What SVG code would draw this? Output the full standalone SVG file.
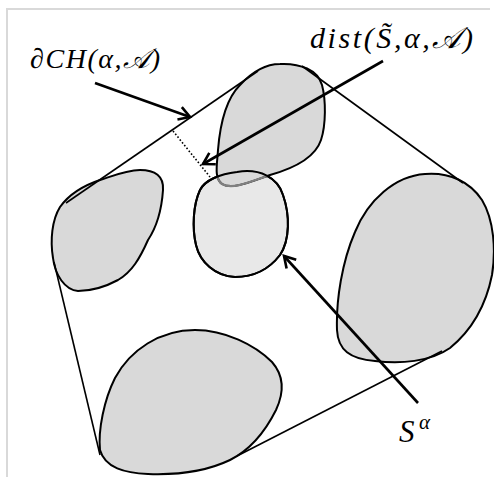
<svg xmlns="http://www.w3.org/2000/svg" width="494" height="477" viewBox="0 0 494 477">
<style>
.blob{fill:#d9d9d9;stroke:#000;stroke-width:2}
.light{fill:#e8e8e8;stroke:#000;stroke-width:2}
.hull{fill:none;stroke:#000;stroke-width:1.6}
.arrow{fill:none;stroke:#000;stroke-width:2.6;marker-end:url(#open)}
.frame{stroke:#d9d9d9;stroke-width:2;fill:none}
.lbl{font-family:"Liberation Serif","DejaVu Serif",serif;font-style:italic;fill:#000}
</style>
<defs>
<marker id="open" markerUnits="userSpaceOnUse" markerWidth="16" markerHeight="16" refX="13" refY="8" orient="auto">
<path d="M2,1.5 L13,8 L2,14.5" fill="none" stroke="#000" stroke-width="2.6"/>
</marker>
<path id="lightShape" d="M237,172 C260,168 278,178 283,195 C290,215 290,240 280,255 C270,268 255,277 235,277 C215,276 200,262 196,245 C192,228 193,205 200,190 C205,180 220,174 237,172 Z"/>
<path id="topShape" d="M280,64 C300,63 318,70 322,85 C326,100 326,125 321,140 C315,158 295,168 270,175 C250,182 232,190 222,184 C214,178 217,165 218,150 C220,125 225,100 240,85 C252,72 265,64 280,64 Z"/>
<clipPath id="lightClip"><use href="#lightShape"/></clipPath>
</defs>
<path class="frame" d="M7,477 L7,9 L490,9"/>
<g id="blob-left"><path class="blob" d="M140,170 C155,170 164,176 163,190 C162,205 158,225 148,240 C140,258 132,272 118,280 C105,287 90,291 78,291 C65,290 55,275 53,258 C50,240 52,220 60,207 C70,193 85,185 100,180 C115,175 127,170 140,170 Z"/></g>
<g id="blob-right"><path class="blob" d="M425,174 C450,172 470,182 482,200 C494,220 496,250 492,275 C486,305 472,330 450,348 C430,362 400,364 375,361 C350,359 338,350 337,330 C336,300 342,262 355,232 C368,200 395,176 425,174 Z"/></g>
<g id="blob-bottom"><path class="blob" d="M195,330 C225,330 255,345 272,362 C286,378 283,395 276,410 C265,432 250,450 230,460 C205,472 175,475 148,474 C125,473 105,468 100,450 C98,430 104,400 115,378 C130,350 160,330 195,330 Z"/></g>
<g id="s-alpha"><use href="#lightShape" class="light"/></g>
<g id="blob-top">
<use href="#topShape" class="blob"/>
<use href="#topShape" fill="none" stroke="#808080" stroke-width="2.2" clip-path="url(#lightClip)"/>
<use href="#lightShape" fill="none" stroke="#000" stroke-width="2"/>
</g>
<g id="connectors">
<path class="hull" d="M258,71 L66,203"/>
<path class="hull" d="M302,66 L463,183"/>
<path class="hull" d="M54,262 L100,455"/>
<path class="hull" d="M237,456 L442,351"/>
<path d="M173,131 L210,177" fill="none" stroke="#000" stroke-width="1.6" stroke-dasharray="1.6,2"/>
<path class="arrow" d="M95,83 L190,117"/>
<path class="arrow" d="M383,61 L203,164"/>
<path class="arrow" d="M418,403 L284,256"/>
</g>
<g id="label-hull"><text class="lbl" x="30" y="68" font-size="28" textLength="130" lengthAdjust="spacing">∂CH(α,𝒜)</text></g>
<g id="label-dist"><text class="lbl" x="310" y="48" font-size="30" textLength="163" lengthAdjust="spacing">dist(S̃,α,𝒜)</text></g>
<g id="label-s"><text class="lbl" x="399" y="442" font-size="31">S</text><text class="lbl" x="419" y="429" font-size="21">α</text></g>
</svg>
